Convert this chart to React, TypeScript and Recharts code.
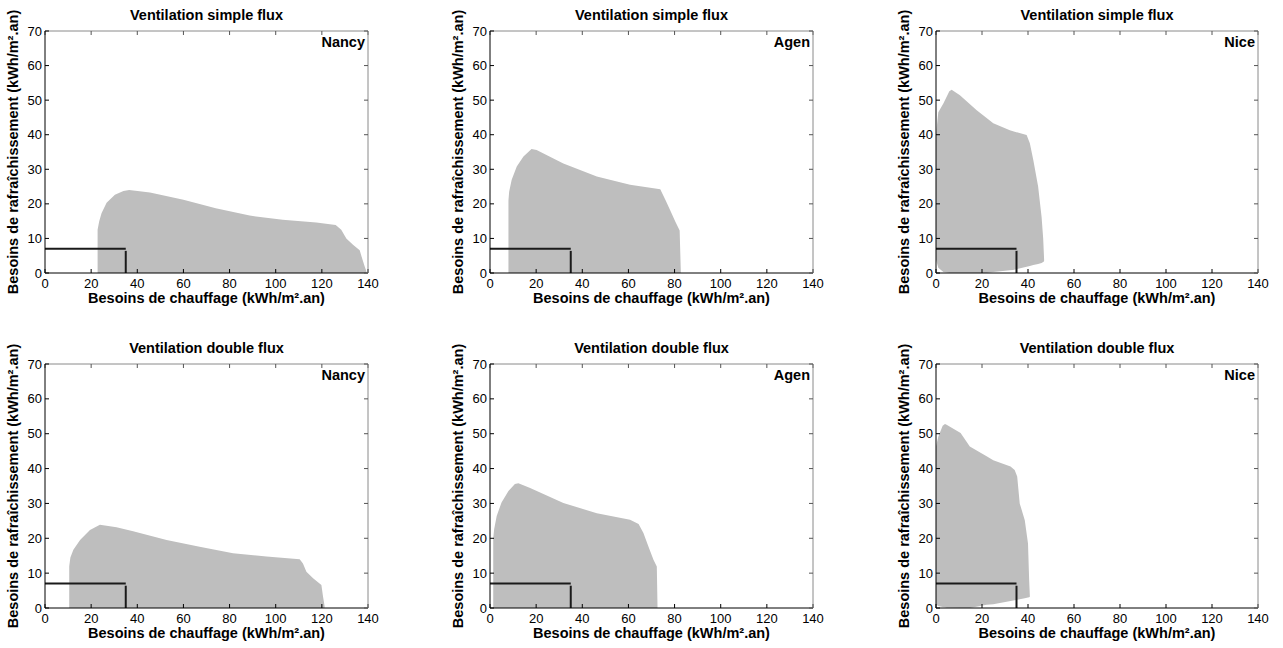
import React from "react";
import { ComposedChart, Area, XAxis, YAxis, ReferenceLine } from "recharts";

const xTicks = [0, 20, 40, 60, 80, 100, 120, 140];
const yTicks = [0, 10, 20, 30, 40, 50, 60, 70];
const heatingLimit = 35;
const coolingLimit = 7;

// outline of the point clouds (x = heating, low/high = cooling)
const nancySimpleX = [22.8, 23.5, 24.5, 26.7, 30.3, 34, 36.5, 45.5, 60, 74, 88.7, 103, 117.6, 126, 128.4, 130.6, 133.5, 136.4, 137.2, 138.5, 139.3];
const nancySimpleLow = [0, 0, 0, 0, 0, 0, 0, 0, 0, 0, 0, 0, 0, 0, 0, 0, 0, 0, 0, 0, 0];
const nancySimpleHigh = [12.5, 15, 17.3, 20.3, 22.6, 23.7, 24, 23.3, 21.2, 18.7, 16.6, 15.4, 14.6, 13.9, 12.5, 10, 8.2, 6.6, 4.8, 2, 0.5];

const agenSimpleX = [8, 8.3, 9.4, 11.6, 14.5, 18, 20.2, 31.8, 46.3, 60.7, 73.8, 76, 78, 80.3, 82.2, 82.7];
const agenSimpleLow = [0, 0, 0, 0, 0, 0, 0, 0, 0, 0, 0, 0, 0, 0, 0, 0];
const agenSimpleHigh = [21, 23.5, 27, 30.8, 33.7, 35.9, 35.6, 31.7, 27.9, 25.5, 24.2, 21.2, 18.3, 14.9, 12.3, 0.5];

const niceSimpleX = [0, 1, 3.2, 5.8, 6.8, 10.4, 17.7, 22, 24.9, 32.1, 33.5, 39.4, 40.8, 42.3, 44.4, 45.9, 46.6, 47];
const niceSimpleLow = [3.8, 1.5, 0.3, 0, 0, 0, 0, 0, 0.3, 0.8, 0.9, 1.8, 2, 2.3, 2.6, 2.9, 3.2, 3.4];
const niceSimpleHigh = [40, 46.5, 49, 52.6, 53, 51.4, 47.1, 44.8, 43.3, 41.3, 41, 39.9, 37.5, 32.7, 25, 16.3, 10, 4];

const nancyDoubleX = [10.5, 11, 12.3, 15.2, 19.5, 23.8, 31, 38.2, 52.7, 67, 81.5, 96, 110.4, 111.8, 113.3, 116.2, 119.8, 120.5, 121.2];
const nancyDoubleLow = [0, 0, 0, 0, 0, 0, 0, 0, 0, 0, 0, 0, 0, 0, 0, 0, 0, 0, 0];
const nancyDoubleHigh = [12, 14.5, 16.7, 19.5, 22.4, 23.9, 23.2, 22, 19.5, 17.6, 15.7, 14.8, 14, 12.8, 10.4, 8.5, 6.6, 3.3, 0.5];

const agenDoubleX = [1.4, 1.8, 2.9, 5, 8, 10.8, 12.3, 17.4, 31.8, 46.3, 60.7, 64.4, 66.5, 68.7, 70.9, 72.3, 72.6];
const agenDoubleLow = [0, 0, 0, 0, 0, 0, 0, 0, 0, 0, 0, 0, 0, 0, 0, 0, 0];
const agenDoubleHigh = [20, 22.6, 26.4, 30.3, 33.6, 35.6, 35.8, 34.4, 30.1, 27.2, 25.3, 24.1, 21.5, 17.6, 13.8, 11.9, 0.5];

const niceDoubleX = [0, 1, 2.9, 3.9, 4.6, 10.7, 14.7, 22, 24.9, 32.4, 34.2, 35.3, 36.4, 38.6, 40, 40.5, 40.8];
const niceDoubleLow = [1, 0.6, 0.3, 0.2, 0.1, 0, 0, 0.9, 1.1, 2, 2.2, 2.4, 2.5, 2.8, 3, 3.1, 3.2];
const niceDoubleHigh = [46.3, 49.1, 52.3, 52.8, 52.6, 50.2, 46.3, 43.5, 42.4, 40.6, 39.6, 37.7, 30, 25.2, 18.5, 8, 3.5];

const toRows = (xs: number[], lows: number[], highs: number[]) =>
  xs.map((x, i) => ({ x, range: [lows[i], highs[i]] }));

const FONT = '"Liberation Sans", Arial, Helvetica, sans-serif';
// page offset of the plot box inside each chart svg
const PAD = { top: 31, right: 20, bottom: 25, left: 45 };
// axes get 1px each, the rest is margin
const M = { top: PAD.top - 1, right: PAD.right - 1, bottom: PAD.bottom - 1, left: PAD.left - 1 };

interface PanelProps {
  left: number;
  top: number;
  width: number;
  height: number;
  title: string;
  city: string;
  rows: { x: number; range: number[] }[];
}

function Panel({ left, top, width, height, title, city, rows }: PanelProps) {
  const bold: React.CSSProperties = { position: "absolute", fontWeight: "bold", fontSize: 14.5, whiteSpace: "nowrap" };
  return (
    <>
      <div style={{ position: "absolute", left: left - PAD.left, top: top - PAD.top }}>
        <ComposedChart width={width + PAD.left + PAD.right} height={height + PAD.top + PAD.bottom} margin={M} data={rows}>
          <XAxis xAxisId="b" type="number" dataKey="x" domain={[0, 140]} ticks={xTicks} interval={0} height={1}
            tickSize={-4} tickMargin={10} tick={{ fill: "#000", fontSize: 13 }}
            axisLine={{ stroke: "#000" }} tickLine={{ stroke: "#000" }} allowDataOverflow />
          <XAxis xAxisId="t" orientation="top" type="number" dataKey="x" domain={[0, 140]} ticks={xTicks} interval={0} height={1}
            tickSize={-4} tickFormatter={() => ""} axisLine={{ stroke: "#8a8a8a" }} tickLine={{ stroke: "#555" }} allowDataOverflow />
          <YAxis yAxisId="l" type="number" domain={[0, 70]} ticks={yTicks} interval={0} width={1}
            tickSize={-4} tickMargin={7} tick={{ fill: "#000", fontSize: 13 }}
            axisLine={{ stroke: "#000" }} tickLine={{ stroke: "#000" }} allowDataOverflow />
          <YAxis yAxisId="r" orientation="right" type="number" domain={[0, 70]} ticks={yTicks} interval={0} width={1}
            tickSize={-4} tickFormatter={() => ""} axisLine={{ stroke: "#8a8a8a" }} tickLine={{ stroke: "#555" }} allowDataOverflow />
          <Area xAxisId="b" yAxisId="l" type="linear" dataKey="range" fill="#bebebe" fillOpacity={1}
            stroke="none" dot={false} activeDot={false} isAnimationActive={false} />
          <ReferenceLine xAxisId="b" yAxisId="l" segment={[{ x: 0, y: coolingLimit }, { x: heatingLimit, y: coolingLimit }]}
            stroke="#1a1a1a" strokeWidth={2} />
          <ReferenceLine xAxisId="b" yAxisId="l" segment={[{ x: heatingLimit, y: 0 }, { x: heatingLimit, y: coolingLimit - 0.6 }]}
            stroke="#1a1a1a" strokeWidth={2} />
        </ComposedChart>
      </div>
      <div style={{ ...bold, left: left, width: width, textAlign: "center", top: top - 25, lineHeight: "18px" }}>{title}</div>
      <div style={{ ...bold, left: left, width: width, textAlign: "center", top: top + height + 16, lineHeight: "18px" }}>
        Besoins de chauffage (kWh/m².an)
      </div>
      <div style={{ ...bold, left: left + width - 200 - 3, width: 200, textAlign: "right", top: top + 2, lineHeight: "18px" }}>{city}</div>
      <div style={{
        ...bold, left: left - 32 - 200, top: top + height / 2 - 9, width: 400, height: 18, lineHeight: "18px",
        textAlign: "center", transform: "rotate(-90deg)", transformOrigin: "center",
      }}>
        Besoins de rafraîchissement (kWh/m².an)
      </div>
    </>
  );
}

const cols = [
  { left: 45, width: 323 },
  { left: 490, width: 323 },
  { left: 936, width: 322 },
];
const rowsPos = [
  { top: 31, height: 242 },
  { top: 364, height: 244 },
];

export default function App() {
  const panels = [
    { r: 0, c: 0, title: "Ventilation simple flux", city: "Nancy", rows: toRows(nancySimpleX, nancySimpleLow, nancySimpleHigh) },
    { r: 0, c: 1, title: "Ventilation simple flux", city: "Agen", rows: toRows(agenSimpleX, agenSimpleLow, agenSimpleHigh) },
    { r: 0, c: 2, title: "Ventilation simple flux", city: "Nice", rows: toRows(niceSimpleX, niceSimpleLow, niceSimpleHigh) },
    { r: 1, c: 0, title: "Ventilation double flux", city: "Nancy", rows: toRows(nancyDoubleX, nancyDoubleLow, nancyDoubleHigh) },
    { r: 1, c: 1, title: "Ventilation double flux", city: "Agen", rows: toRows(agenDoubleX, agenDoubleLow, agenDoubleHigh) },
    { r: 1, c: 2, title: "Ventilation double flux", city: "Nice", rows: toRows(niceDoubleX, niceDoubleLow, niceDoubleHigh) },
  ];
  return (
    <div style={{ position: "absolute", left: 0, top: 0, width: 1283, height: 648, background: "#fff", fontFamily: FONT, color: "#000", overflow: "hidden" }}>
      {panels.map((p, i) => (
        <Panel key={i} left={cols[p.c].left} width={cols[p.c].width} top={rowsPos[p.r].top} height={rowsPos[p.r].height}
          title={p.title} city={p.city} rows={p.rows} />
      ))}
    </div>
  );
}
